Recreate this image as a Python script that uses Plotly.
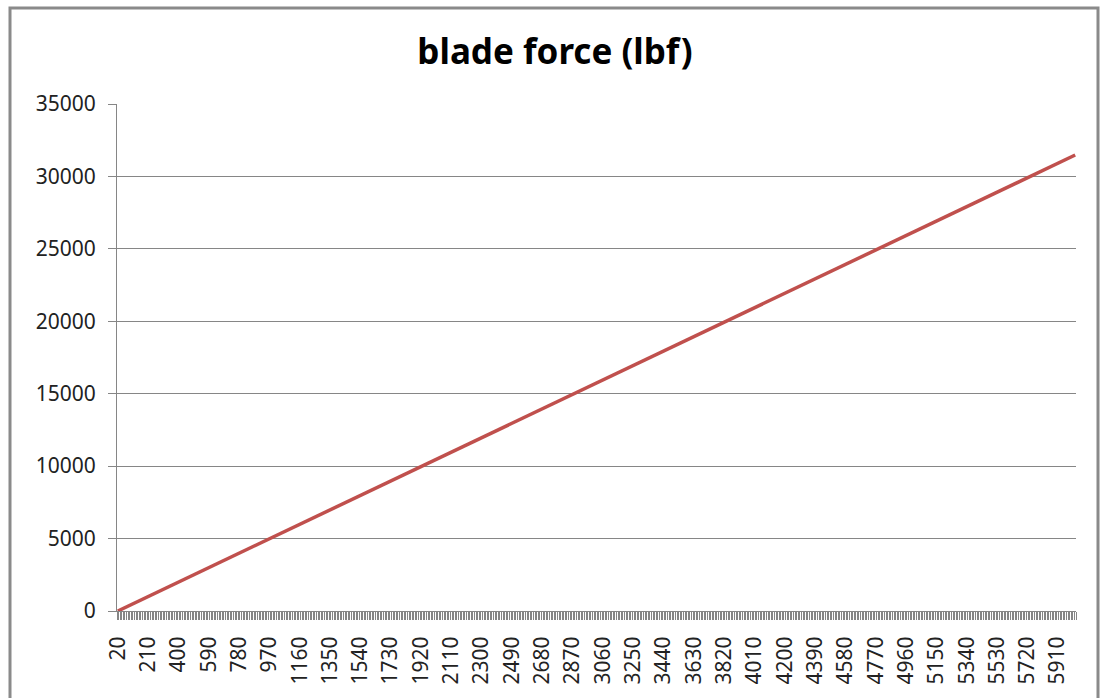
import plotly.graph_objects as go

# Data (category value -> blade force, lbf)
rpm = [20, 970, 1920, 2870, 3820, 4770, 5720, 6020]
blade_force = [0, 4990, 9975, 14960, 19950, 24940, 29925, 31480]

x_tick_labels = list(range(20, 5911, 190))
y_ticks = [0, 5000, 10000, 15000, 20000, 25000, 30000, 35000]

W, H = 1102, 698
L = 117
T = 104
R = W - 1076
B = H - 611
pw, ph = W - L - R, H - T - B

FONT = "Noto Sans"
GRAY = "#868686"
TXT = "#222222"

fig = go.Figure()
fig.add_trace(go.Scatter(
    x=rpm, y=blade_force, mode="lines",
    line=dict(color="#C0504D", width=3.5),
    showlegend=False, hoverinfo="x+y",
))

def px_x(p):
    return (p - L) / pw

def px_y(p):
    return (H - B - p) / ph

fig.add_shape(type="rect", xref="paper", yref="paper",
              x0=px_x(10), x1=px_x(1098), y0=px_y(730), y1=px_y(8),
              line=dict(color="#8a8a8a", width=3), fillcolor="rgba(0,0,0,0)",
              layer="below")

fig.update_layout(
    width=W, height=H,
    margin=dict(l=L, r=R, t=T, b=B),
    paper_bgcolor="white", plot_bgcolor="white",
    title=dict(text="<b>blade force (lbf)</b>", x=555 / W, xanchor="center",
               y=1 - 52 / H, yanchor="middle",
               font=dict(family=FONT, size=35, color="black")),
    font=dict(family=FONT, size=21, color=TXT),
)
fig.update_xaxes(
    range=[15, 6025], showgrid=False, zeroline=False,
    showline=True, linecolor=GRAY, linewidth=1,
    tickmode="array", tickvals=x_tick_labels, ticktext=[str(v) for v in x_tick_labels],
    ticks="", tickangle=-90, ticklabelstandoff=16,
    tickfont=dict(family=FONT, size=21, color=TXT),
    minor=dict(ticks="outside", tick0=15, dtick=10, ticklen=8, tickwidth=1,
               tickcolor=GRAY, showgrid=False),
)
fig.update_yaxes(
    range=[0, 35000], tickmode="array", tickvals=y_ticks,
    ticktext=[str(v) for v in y_ticks],
    showgrid=True, gridcolor=GRAY, gridwidth=1, zeroline=False,
    showline=True, linecolor=GRAY, linewidth=1,
    ticks="outside", ticklen=8, tickcolor=GRAY, ticklabelstandoff=8,
    tickfont=dict(family=FONT, size=21, color=TXT),
)

fig.write_html(
    "out.html",
    config={"displayModeBar": False},
    post_script="document.body.style.margin='0';document.body.style.overflow='hidden';",
)
